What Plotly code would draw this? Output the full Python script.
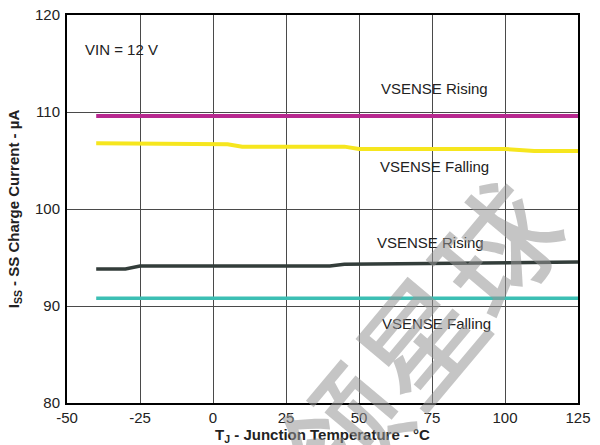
import plotly.graph_objects as go

# I_SS vs junction temperature, VIN = 12 V
rise_hi_t = [-40, 125]
rise_hi_i = [109.6, 109.6]

fall_hi_t = [-40, -20, -15, 5, 10, 45, 50, 100, 110, 125]
fall_hi_i = [106.77, 106.77, 106.67, 106.67, 106.43, 106.43, 106.19, 106.19, 105.98, 105.98]

rise_lo_t = [-40, -30, -25, 40, 45, 75, 125]
rise_lo_i = [93.81, 93.81, 94.12, 94.12, 94.3, 94.4, 94.54]

fall_lo_t = [-40, 125]
fall_lo_i = [90.8, 90.8]

x_ticks = [-50, -25, 0, 25, 50, 75, 100, 125]
x_tick_text = ["-50", "-25", "0", "25", "50", "75", "100", "125"]
y_ticks = [80, 90, 100, 110, 120]

FONT = "Liberation Sans, Arial, sans-serif"

fig = go.Figure()
fig.add_trace(go.Scatter(x=rise_hi_t, y=rise_hi_i, mode="lines",
                         line=dict(color="#b7288f", width=4)))
fig.add_trace(go.Scatter(x=fall_hi_t, y=fall_hi_i, mode="lines",
                         line=dict(color="#f6e61e", width=4)))
fig.add_trace(go.Scatter(x=rise_lo_t, y=rise_lo_i, mode="lines",
                         line=dict(color="#333d3a", width=3.5)))
fig.add_trace(go.Scatter(x=fall_lo_t, y=fall_lo_i, mode="lines",
                         line=dict(color="#3cbfb4", width=3.5)))

labels = [
    ("VIN = 12 V", -44.5, 116.4),
    ("VSENSE Rising", 76, 112.4),
    ("VSENSE Falling", 76, 104.4),
    ("VSENSE Rising", 74.5, 96.5),
    ("VSENSE Falling", 76.5, 88.2),
]
for txt, x, y in labels:
    fig.add_annotation(x=x, y=y, text=txt, showarrow=False,
                       xanchor="left" if txt.startswith("VIN") else "center",
                       font=dict(family=FONT, size=15, color="#222"))

# watermark
fig.add_annotation(xref="paper", yref="paper", x=0.682, y=0.17, text="领星球",
                   showarrow=False, textangle=-50, xanchor="center", yanchor="middle",
                   font=dict(family="Noto Sans CJK SC", size=120, weight=500,
                             color="rgba(150,150,150,0.55)"))

fig.update_layout(
    width=600, height=445,
    showlegend=False,
    plot_bgcolor="white",
    paper_bgcolor="white",
    font=dict(family=FONT, size=15, color="#222"),
    margin=dict(l=67, r=22, t=15, b=42),
)
fig.update_xaxes(
    range=[-50, 125], tickvals=x_ticks, ticktext=x_tick_text, ticks="", showgrid=True,
    gridcolor="#4a4a4a", gridwidth=1, zeroline=False, automargin=False,
    showline=True, linecolor="black", linewidth=2, mirror=True,
    tickfont=dict(size=15), ticklabelstandoff=0,
    title=dict(text="<b>T<sub>J</sub> - Junction Temperature - °C</b>",
               font=dict(size=15, color="#222"), standoff=2),
)
fig.update_yaxes(
    range=[80, 120], tickvals=y_ticks, ticks="", showgrid=True,
    gridcolor="#4a4a4a", gridwidth=1, zeroline=False, automargin=False,
    showline=True, linecolor="black", linewidth=2, mirror=True,
    tickfont=dict(size=15), ticklabelstandoff=2,
    title=dict(text="<b>I<sub>SS</sub> - SS Charge Current - µA</b>",
               font=dict(size=15, color="#222"), standoff=12),
)

fig.write_html("out.html", config={"displayModeBar": False},
               post_script="document.body.style.margin='0';")
